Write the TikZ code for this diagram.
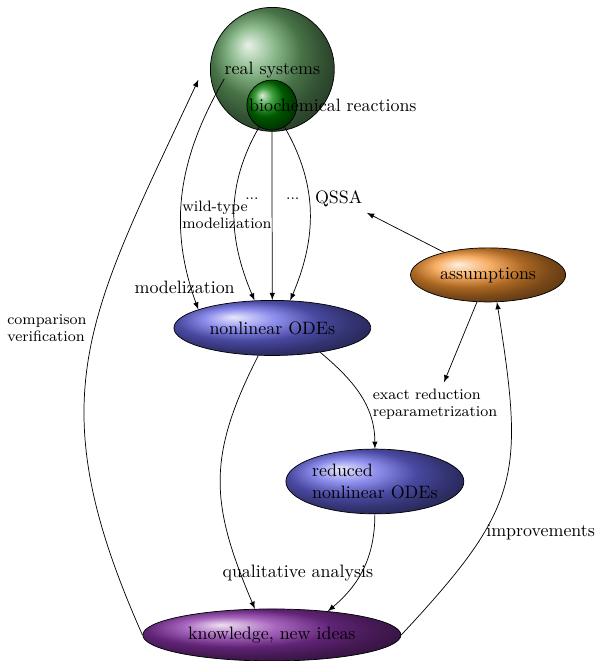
\documentclass[tikz,border=0pt]{standalone}
\usepackage{fontspec}
\usetikzlibrary{shapes.geometric}
\begin{document}
\begin{tikzpicture}[>=latex,
  bubble/.style={ellipse, draw, inner sep=0pt},
  small/.style={font=\fontsize{8.4}{9.6}\selectfont, align=left}]
\useasboundingbox (0,0) rectangle (11.70,12.96);
\node (real) [circle, draw, ball color=green!40!black!60!white, minimum size=2.43cm, outer sep=0.25cm] at (5.34,11.60) {};
\node (realtxt) [inner sep=0pt] at (5.34,11.58) {real systems};
\node (bio) [circle, draw, ball color=green!50!black, minimum size=0.98cm] at (5.33,10.90) {};
\node (biotxt) [anchor=west] at (4.76,10.90) {biochemical reactions};
\node (ode) [bubble, ball color=blue!55!white!90!black, minimum width=3.86cm, minimum height=1.08cm] at (5.34,6.53) {nonlinear ODEs};
\node (assum) [bubble, ball color=orange!80!brown!85!white, minimum width=3.04cm, minimum height=1.06cm] at (9.57,7.57) {assumptions};
\node (red) [bubble, ball color=blue!55!white!90!black, minimum width=3.49cm, minimum height=1.27cm, align=left] at (7.35,3.52) {reduced\\nonlinear ODEs};
\node (know) [bubble, ball color=violet!85!blue!80!white, minimum width=5.06cm, minimum height=1.02cm] at (5.33,0.51) {knowledge, new ideas};
\node (mod) at (3.62,7.33) {modelization};
\node (wild) [small] at (4.45,8.74) {wild-type\\modelization};
\node (dotsa) [small] at (4.94,9.07) {...};
\node (dotsb) [small] at (5.74,9.07) {...};
\node (qssa) at (6.64,9.07) {QSSA};
\node (comp) [small] at (0.92,6.53) {comparison\\verification};
\node (exact) [small] at (8.53,5.04) {exact reduction\\reparametrization};
\node (qual) at (5.84,1.72) {qualitative analysis};
\node (impr) at (10.60,2.53) {improvements};
\draw [->] (realtxt.south west) to[out=240,in=110] (ode.166);
\draw [->] (bio) to[out=240,in=113] (ode.123);
\draw [->] (bio) -- (ode);
\draw [->] (bio) to[out=300,in=67] (ode.57);
\draw [->] (assum) -- (qssa);
\draw [->] (assum) -- (exact);
\draw [->] (ode.-27) to[out=-40,in=90] (red);
\draw [->] (ode.243) to[out=243,in=113,looseness=1.15] (know.123);
\draw [->] (red) to[out=-90,in=40] (know.23);
\draw [->] (know.east) to[out=47,in=-81,looseness=1.3] (assum.-72);
\draw [->] (know.west) to[out=114,in=245,looseness=1.2] (real.188);
\end{tikzpicture}
\end{document}
